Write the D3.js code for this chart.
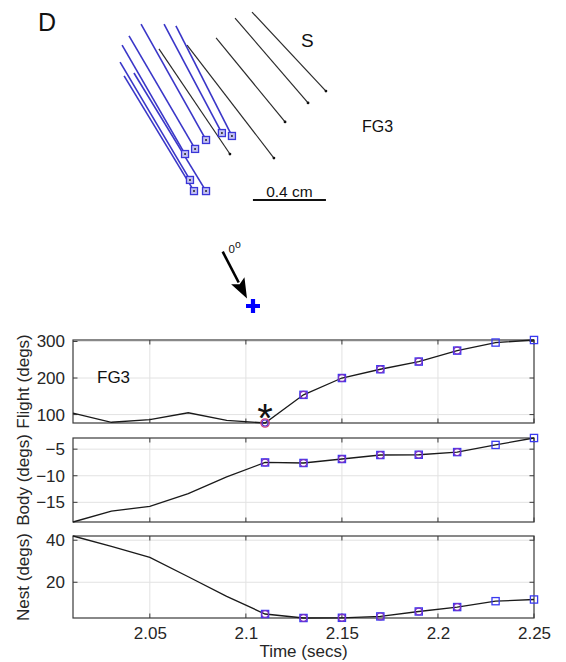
<!DOCTYPE html>
<html><head><meta charset="utf-8">
<script src="https://cdn.jsdelivr.net/npm/d3@7"></script>
<style>body{margin:0;background:#fff}svg{display:block}text{font-family:Arial,"Liberation Sans",sans-serif}</style>
</head><body>
<script>
// ---- data ----
const times = [2.01, 2.03, 2.05, 2.07, 2.09, 2.11, 2.13, 2.15, 2.17, 2.19, 2.21, 2.23, 2.25];
const flight = [104, 79, 86, 105, 84, 77, 154, 200, 224, 245, 275, 297, 304];
const body = [-18.7, -16.65, -15.76, -13.35, -10.2, -7.5, -7.6, -6.85, -6.1, -6.05, -5.55, -4.2, -2.9];
const nest = [42, 37.1, 31.8, 22.6, 13.3, 4.9, 3.0, 3.1, 3.75, 6.1, 8.2, 11, 11.8];
const squareFrom = 5;   // index where square markers start (2.11)
const circleTo = 10;    // index where circle markers end (2.21)
const xTicks = [2.05, 2.1, 2.15, 2.2, 2.25];
const xTickLabels = ["2.05", "2.1", "2.15", "2.2", "2.25"];
const flightTicks = [100, 200, 300];
const bodyTicks = [-15, -10, -5];
const nestTicks = [20, 40];
const panelLabels = ["Flight (degs)", "Body (degs)", "Nest (degs)"];
// stick diagram (cm): [x0, y0, x1, y1], head -> tail
const blueSticks = [
  [0.225, 0.132, 0.581, 0.767], [0.351, 0.132, 0.668, 0.729], [0.416, 0.142, 0.723, 0.745],
  [0.159, 0.197, 0.521, 0.816], [0.121, 0.247, 0.466, 0.844], [0.110, 0.340, 0.493, 0.986],
  [0.132, 0.416, 0.515, 1.047], [0.186, 0.400, 0.581, 1.047]
];
const blackSticks = [
  [0.323, 0.268, 0.712, 0.844], [0.477, 0.247, 0.953, 0.866], [0.636, 0.208, 1.014, 0.668],
  [0.740, 0.099, 1.140, 0.564], [0.833, 0.066, 1.238, 0.499]
];
const scaleBarCm = 0.4;

// ---- drawing ----
const W = 566, H = 662;
const svg = d3.select("body").append("svg").attr("width", W).attr("height", H);
const axisCol = "#3a3a3a", txtCol = "#262626";

// Stick diagram
const sx = d3.scaleLinear().domain([0, 1]).range([100, 282.5]);
const sy = d3.scaleLinear().domain([0, 1]).range([0, 182.5]);
const gS = svg.append("g");
gS.selectAll("line.bk").data(blackSticks).join("line")
  .attr("x1", d => sx(d[0])).attr("y1", d => sy(d[1])).attr("x2", d => sx(d[2])).attr("y2", d => sy(d[3]))
  .attr("stroke", "#2a2a2a").attr("stroke-width", 1.2);
gS.selectAll("circle.bk").data(blackSticks).join("circle")
  .attr("cx", d => sx(d[2])).attr("cy", d => sy(d[3])).attr("r", 1.4).attr("fill", "#111");
gS.selectAll("line.bl").data(blueSticks).join("line")
  .attr("x1", d => sx(d[0])).attr("y1", d => sy(d[1])).attr("x2", d => sx(d[2])).attr("y2", d => sy(d[3]))
  .attr("stroke", "#3a36c8").attr("stroke-width", 1.6);
gS.selectAll("rect.bl").data(blueSticks).join("rect")
  .attr("x", d => sx(d[2]) - 3.5).attr("y", d => sy(d[3]) - 3.5).attr("width", 7).attr("height", 7)
  .attr("fill", "#c4c2f2").attr("stroke", "#3a36d8").attr("stroke-width", 1.3);
gS.selectAll("circle.bl").data(blueSticks).join("circle")
  .attr("cx", d => sx(d[2])).attr("cy", d => sy(d[3])).attr("r", 1).attr("fill", "#222");

svg.append("text").attr("x", 38).attr("y", 31).attr("font-size", 25).attr("fill", "#111").text("D");
svg.append("text").attr("x", 301).attr("y", 47).attr("font-size", 19).attr("fill", "#111").text("S");
svg.append("text").attr("x", 362).attr("y", 132).attr("font-size", 16).attr("fill", "#111").text("FG3");
// scale bar
const sbX0 = 0.838, sbY = 1.096;
svg.append("line").attr("x1", sx(sbX0)).attr("x2", sx(sbX0 + scaleBarCm)).attr("y1", sy(sbY)).attr("y2", sy(sbY))
  .attr("stroke", "#111").attr("stroke-width", 2);
svg.append("text").attr("x", (sx(sbX0) + sx(sbX0 + scaleBarCm)) / 2).attr("y", 197).attr("text-anchor", "middle")
  .attr("font-size", 15.5).attr("fill", "#111").text("0.4 cm");

// arrow
const ax0 = 222.7, ay0 = 251.7, ax1 = 247, ay1 = 298.5;
const ang = Math.atan2(ay1 - ay0, ax1 - ax0);
const hl = 20, hw = 7.5;
const bx = ax1 - hl * Math.cos(ang), by = ay1 - hl * Math.sin(ang);
svg.append("line").attr("x1", ax0).attr("y1", ay0).attr("x2", bx + 2 * Math.cos(ang)).attr("y2", by + 2 * Math.sin(ang))
  .attr("stroke", "#000").attr("stroke-width", 2.6);
svg.append("path").attr("d", `M${ax1},${ay1} L${bx - hw * Math.sin(ang)},${by + hw * Math.cos(ang)} L${bx + 4*Math.cos(ang)},${by + 4*Math.sin(ang)} L${bx + hw * Math.sin(ang)},${by - hw * Math.cos(ang)} Z`)
  .attr("fill", "#000");
const lbl = svg.append("text").attr("x", 228.5).attr("y", 253).attr("font-size", 11.5).attr("fill", "#111");
lbl.append("tspan").text("0");
lbl.append("tspan").attr("dy", -5).attr("font-size", 10.5).text("o");
// blue plus
svg.append("path").attr("d", "M246,306 H260 M253,299 V313").attr("stroke", "#0000ff").attr("stroke-width", 4.2);

// Time-series panels
const x = d3.scaleLinear().domain(d3.extent(times)).range([73, 534]);
const panels = [
  { data: flight, ticks: flightTicks, top: 340, bottom: 423, label: panelLabels[0] },
  { data: body, ticks: bodyTicks, top: 438, bottom: 522, label: panelLabels[1] },
  { data: nest, ticks: nestTicks, top: 536, bottom: 618, label: panelLabels[2] }
];
const tl = 4.5;
panels.forEach((p, pi) => {
  const y = d3.scaleLinear().domain(d3.extent(p.data)).range([p.bottom, p.top]);
  const g = svg.append("g");
  // grid
  g.selectAll("line.gx").data(xTicks.filter(t => t < 2.25)).join("line")
    .attr("x1", d => x(d)).attr("x2", d => x(d)).attr("y1", p.top).attr("y2", p.bottom)
    .attr("stroke", "#e2e2e2").attr("stroke-width", 1);
  g.selectAll("line.gy").data(p.ticks).join("line")
    .attr("x1", 73).attr("x2", 534).attr("y1", d => y(d)).attr("y2", d => y(d))
    .attr("stroke", "#e2e2e2").attr("stroke-width", 1);
  // box
  g.append("rect").attr("x", 73).attr("y", p.top).attr("width", 534 - 73).attr("height", p.bottom - p.top)
    .attr("fill", "none").attr("stroke", axisCol).attr("stroke-width", 1.2);
  // ticks inward all sides
  xTicks.forEach(t => {
    g.append("line").attr("x1", x(t)).attr("x2", x(t)).attr("y1", p.bottom).attr("y2", p.bottom - tl).attr("stroke", axisCol);
    g.append("line").attr("x1", x(t)).attr("x2", x(t)).attr("y1", p.top).attr("y2", p.top + tl).attr("stroke", axisCol);
  });
  p.ticks.forEach(t => {
    g.append("line").attr("x1", 73).attr("x2", 73 + tl).attr("y1", y(t)).attr("y2", y(t)).attr("stroke", axisCol);
    g.append("line").attr("x1", 534).attr("x2", 534 - tl).attr("y1", y(t)).attr("y2", y(t)).attr("stroke", axisCol);
  });
  // y tick labels
  const ya = d3.axisLeft(y).tickValues(p.ticks).tickSize(0).tickPadding(8);
  const yg = g.append("g").attr("transform", "translate(73,0)").call(ya);
  yg.select(".domain").remove();
  yg.selectAll("text").attr("font-size", 17).attr("fill", txtCol).attr("font-family", "Arial, 'Liberation Sans', sans-serif");
  // y label
  g.append("text").attr("transform", `translate(29,${(p.top + p.bottom) / 2}) rotate(-90)`)
    .attr("text-anchor", "middle").attr("font-size", 17).attr("fill", txtCol).text(p.label);
  // line
  g.append("path").datum(p.data).attr("fill", "none").attr("stroke", "#1a1a1a").attr("stroke-width", 1.3)
    .attr("d", d3.line().x((d, i) => x(times[i])).y(d => y(d)));
  const idx = d3.range(squareFrom, times.length);
  if (pi === 0) {
    // first marker is circle only
    g.append("circle").attr("cx", x(times[squareFrom])).attr("cy", y(p.data[squareFrom])).attr("r", 4.2)
      .attr("fill", "none").attr("stroke", "#d03a7a").attr("stroke-width", 1.3);
    g.append("circle").attr("cx", x(times[squareFrom])).attr("cy", y(p.data[squareFrom])).attr("r", 3)
      .attr("fill", "none").attr("stroke", "#5a34d0").attr("stroke-width", 1.1);
  }
  const sqIdx = pi === 0 ? idx.slice(1) : idx;
  g.selectAll("rect.m").data(sqIdx).join("rect")
    .attr("x", i => x(times[i]) - 3.6).attr("y", i => y(p.data[i]) - 3.6).attr("width", 7.2).attr("height", 7.2)
    .attr("fill", "none").attr("stroke", "#3a3af0").attr("stroke-width", 1.3);
  const cIdx = d3.range(squareFrom, circleTo + 1).filter(i => !(pi === 0 && i === squareFrom));
  g.selectAll("circle.m").data(cIdx).join("circle")
    .attr("cx", i => x(times[i])).attr("cy", i => y(p.data[i])).attr("r", 3.4)
    .attr("fill", "none").attr("stroke", "#7a30c8").attr("stroke-width", 1.2);
  if (pi === 0) {
    g.append("text").attr("x", 97).attr("y", 383).attr("font-size", 17).attr("fill", "#111").text("FG3");
    g.append("text").attr("x", x(times[squareFrom])).attr("y", 432).attr("text-anchor", "middle")
      .attr("font-size", 40).attr("fill", "#111").text("*");
  }
  if (pi === 2) {
    const xa = d3.axisBottom(x).tickValues(xTicks).tickFormat((d, i) => xTickLabels[i]).tickSize(0).tickPadding(9);
    const xg = g.append("g").attr("transform", `translate(0,${p.bottom})`).call(xa);
    xg.select(".domain").remove();
    xg.selectAll("text").attr("font-size", 17).attr("fill", txtCol).attr("font-family", "Arial, 'Liberation Sans', sans-serif");
    g.append("text").attr("x", (73 + 534) / 2).attr("y", 657).attr("text-anchor", "middle")
      .attr("font-size", 17).attr("fill", txtCol).text("Time (secs)");
  }
});
</script>
</body></html>
